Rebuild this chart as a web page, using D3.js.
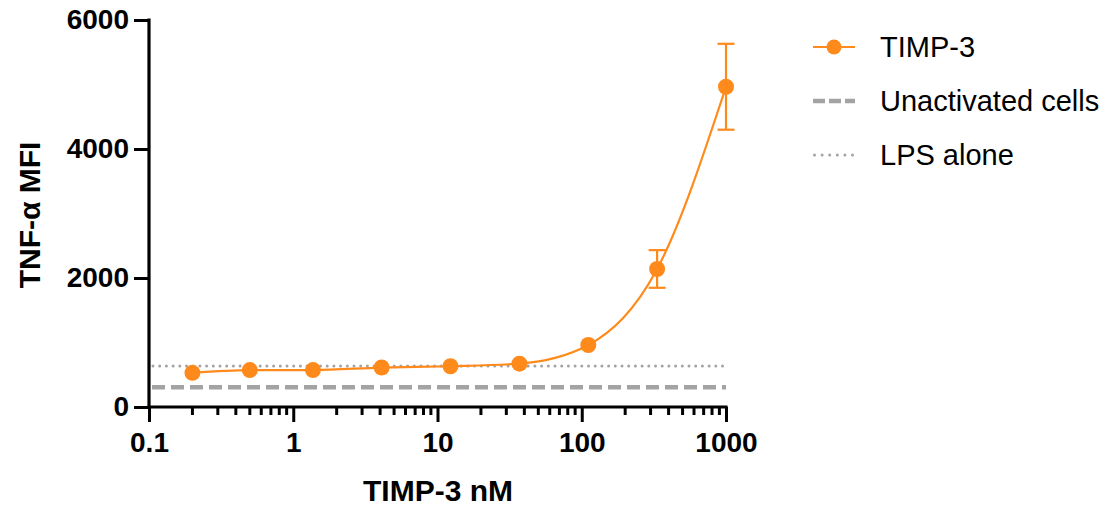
<!DOCTYPE html>
<html>
<head>
<meta charset="utf-8">
<script src="https://cdn.jsdelivr.net/npm/d3@7"></script>
<style>
  body { margin: 0; background: #fff; }
  svg { font-family: "Liberation Sans", Arial, sans-serif; }
</style>
</head>
<body>
<svg id="chart" width="1115" height="507"></svg>
<script>
// TIMP-3 dose response (nM vs TNF-alpha MFI)
const doses = [0.2, 0.5, 1.37, 4.1, 12.3, 37, 111, 333, 1000];
const meanMFI = [530, 573, 573, 612, 632, 672, 961, 2140, 4965];
const sdMFI = [0, 0, 0, 0, 0, 0, 0, 292, 666];
const unactivated = 305;
const lpsAlone = 635;
const xTicks = [0.1, 1, 10, 100, 1000];
const yTicks = [0, 2000, 4000, 6000];
const legendLabels = ["TIMP-3", "Unactivated cells", "LPS alone"];

const orange = "#ff8a1c";
const grey = "#a3a3a3";

const svg = d3.select("#chart");

const x = d3.scaleLog().domain([0.1, 1000]).range([149, 726]);
const y = d3.scaleLinear().domain([0, 6000]).range([407, 20]);

// minor ticks 2..9 per decade
const minorTicks = [];
for (let d = 0.1; d < 1000; d *= 10) {
  for (let k = 2; k <= 9; k++) minorTicks.push(+(d * k).toPrecision(3));
}

// x axis
const xAxis = svg.append("g").attr("transform", "translate(0,407)");
xAxis.call(d3.axisBottom(x).tickValues(xTicks).tickSize(15).tickPadding(10)
  .tickFormat(d3.format("~g")));
xAxis.append("g").selectAll("line")
  .data(minorTicks)
  .join("line")
  .attr("x1", d => x(d)).attr("x2", d => x(d))
  .attr("y1", 0).attr("y2", 8)
  .attr("stroke", "#000").attr("stroke-width", 3);

// y axis
const yAxis = svg.append("g").attr("transform", "translate(149,0)");
yAxis.call(d3.axisLeft(y).tickValues(yTicks).tickSize(15).tickPadding(5)
  .tickFormat(d3.format("d")));

svg.selectAll(".domain").attr("stroke", "#000").attr("stroke-width", 3.2);
svg.selectAll(".tick line").attr("stroke", "#000").attr("stroke-width", 3);
svg.selectAll(".tick text")
  .attr("fill", "#000")
  .attr("font-size", "28px")
  .attr("font-weight", "bold")
  .attr("font-family", "Liberation Sans, Arial, sans-serif");
// trim domain ends (no outer ticks)
xAxis.select(".domain").attr("d", `M${x(0.1) - 1.6},0H${x(1000) + 1.6}`);
yAxis.select(".domain").attr("d", `M0,${y(0) + 1.6}V${y(6000) - 1.6}`);

// reference lines
svg.append("line")
  .attr("x1", x(0.1) + 3).attr("x2", x(1000))
  .attr("y1", y(unactivated)).attr("y2", y(unactivated))
  .attr("stroke", grey).attr("stroke-width", 4.5)
  .attr("stroke-dasharray", "13,6");

svg.append("line")
  .attr("x1", x(0.1) + 4).attr("x2", x(1000))
  .attr("y1", y(lpsAlone)).attr("y2", y(lpsAlone))
  .attr("stroke", grey).attr("stroke-width", 3)
  .attr("stroke-linecap", "round")
  .attr("stroke-dasharray", "0,6.7");

// TIMP-3 curve
const pts = doses.map((d, i) => [d, meanMFI[i]]);
const line = d3.line()
  .x(d => x(d[0]))
  .y(d => y(d[1]))
  .curve(d3.curveMonotoneX);

svg.append("path")
  .datum(pts)
  .attr("fill", "none")
  .attr("stroke", orange)
  .attr("stroke-width", 2.2)
  .attr("d", line);

// error bars
const errs = doses.map((d, i) => ({ d, m: meanMFI[i], s: sdMFI[i] })).filter(e => e.s > 0);
const eb = svg.append("g").attr("stroke", orange).attr("stroke-width", 2.2);
eb.selectAll(".v").data(errs).join("line")
  .attr("x1", e => x(e.d)).attr("x2", e => x(e.d))
  .attr("y1", e => y(e.m - e.s)).attr("y2", e => y(e.m + e.s));
eb.selectAll(".cap").data(errs.flatMap(e => [[e.d, e.m - e.s], [e.d, e.m + e.s]])).join("line")
  .attr("x1", c => x(c[0]) - 8.5).attr("x2", c => x(c[0]) + 8.5)
  .attr("y1", c => y(c[1])).attr("y2", c => y(c[1]));

svg.append("g").selectAll("circle")
  .data(pts)
  .join("circle")
  .attr("cx", d => x(d[0]))
  .attr("cy", d => y(d[1]))
  .attr("r", 8)
  .attr("fill", orange);

// axis titles
svg.append("text")
  .attr("x", 438).attr("y", 501)
  .attr("text-anchor", "middle")
  .attr("font-size", "30px").attr("font-weight", "bold")
  .text("TIMP-3 nM");

svg.append("text")
  .attr("transform", "translate(40,215) rotate(-90)")
  .attr("text-anchor", "middle")
  .attr("font-size", "30px").attr("font-weight", "bold")
  .text("TNF-α MFI");

// legend
const legend = svg.append("g").attr("transform", "translate(813,0)");
const rowY = [47, 101, 155];
legend.append("line")
  .attr("x1", 0).attr("x2", 42).attr("y1", rowY[0]).attr("y2", rowY[0])
  .attr("stroke", orange).attr("stroke-width", 2);
legend.append("circle").attr("cx", 21).attr("cy", rowY[0]).attr("r", 7.5).attr("fill", orange);
legend.append("line")
  .attr("x1", 0).attr("x2", 42).attr("y1", rowY[1]).attr("y2", rowY[1])
  .attr("stroke", grey).attr("stroke-width", 4.5).attr("stroke-dasharray", "12,4");
legend.append("line")
  .attr("x1", 1.5).attr("x2", 42).attr("y1", rowY[2]).attr("y2", rowY[2])
  .attr("stroke", grey).attr("stroke-width", 3)
  .attr("stroke-linecap", "round").attr("stroke-dasharray", "0,7.6");
legend.selectAll("text")
  .data(legendLabels)
  .join("text")
  .attr("x", 67)
  .attr("y", (d, i) => rowY[i])
  .attr("dy", "0.36em")
  .attr("font-size", "29px")
  .attr("fill", "#000")
  .text(d => d);
</script>
</body>
</html>
